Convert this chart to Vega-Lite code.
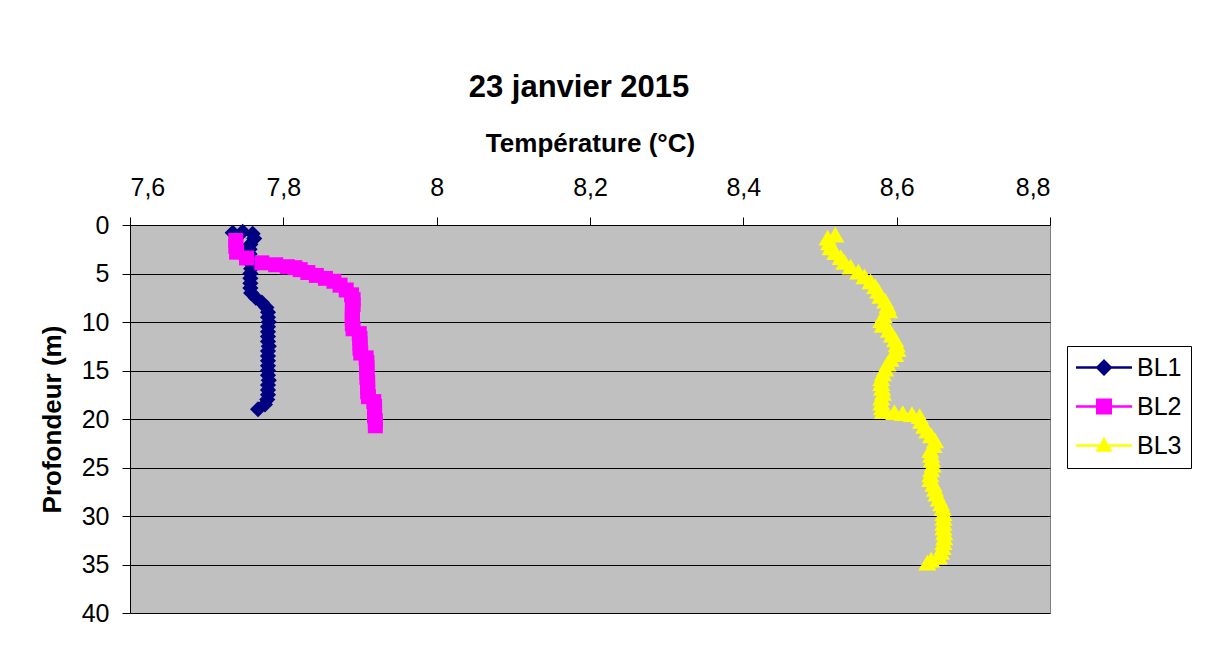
{
  "$schema": "https://vega.github.io/schema/vega-lite/v6.json",
  "autosize": {"type": "none"},
  "padding": {"left": 130, "top": 225, "right": 163, "bottom": 35},
  "width": 920,
  "height": 388,
  "background": "white",
  "title": {"text": "23 janvier 2015", "font": "Liberation Sans", "fontSize": 31, "fontWeight": "bold", "color": "black", "frame": "group", "anchor": "middle", "dx": -11, "offset": 26},
  "config": {
    "font": "Liberation Sans",
    "view": {"fill": "#C0C0C0", "stroke": "#808080", "strokeWidth": 1}
  },
  "data": {"values": [
    {"s":"BL1","d":0.7,"t":7.747},{"s":"BL1","d":0.8,"t":7.734},{"s":"BL1","d":0.9,"t":7.760},{"s":"BL1","d":1.4,"t":7.762},
    {"s":"BL1","d":2.0,"t":7.757},{"s":"BL1","d":2.5,"t":7.756},{"s":"BL1","d":3.0,"t":7.756},{"s":"BL1","d":3.5,"t":7.757},
    {"s":"BL1","d":4.0,"t":7.758},{"s":"BL1","d":4.5,"t":7.758},{"s":"BL1","d":5.0,"t":7.757},{"s":"BL1","d":5.5,"t":7.757},
    {"s":"BL1","d":6.0,"t":7.757},{"s":"BL1","d":6.5,"t":7.757},{"s":"BL1","d":7.0,"t":7.758},{"s":"BL1","d":7.5,"t":7.764},
    {"s":"BL1","d":8.0,"t":7.772},{"s":"BL1","d":8.5,"t":7.778},{"s":"BL1","d":9.0,"t":7.780},{"s":"BL1","d":9.5,"t":7.780},
    {"s":"BL1","d":10.0,"t":7.781},{"s":"BL1","d":10.5,"t":7.780},{"s":"BL1","d":11.0,"t":7.780},{"s":"BL1","d":11.5,"t":7.780},
    {"s":"BL1","d":12.0,"t":7.780},{"s":"BL1","d":12.5,"t":7.781},{"s":"BL1","d":13.0,"t":7.780},{"s":"BL1","d":13.5,"t":7.780},
    {"s":"BL1","d":14.0,"t":7.780},{"s":"BL1","d":14.5,"t":7.780},{"s":"BL1","d":15.0,"t":7.780},{"s":"BL1","d":15.5,"t":7.780},
    {"s":"BL1","d":16.0,"t":7.781},{"s":"BL1","d":16.5,"t":7.780},{"s":"BL1","d":17.0,"t":7.780},{"s":"BL1","d":17.5,"t":7.780},
    {"s":"BL1","d":18.0,"t":7.779},{"s":"BL1","d":18.5,"t":7.776},{"s":"BL1","d":19.0,"t":7.767},

    {"s":"BL2","d":1.6,"t":7.738},{"s":"BL2","d":2.2,"t":7.738},{"s":"BL2","d":2.8,"t":7.739},{"s":"BL2","d":3.4,"t":7.752},
    {"s":"BL2","d":3.9,"t":7.772},{"s":"BL2","d":4.1,"t":7.790},{"s":"BL2","d":4.3,"t":7.805},{"s":"BL2","d":4.4,"t":7.815},
    {"s":"BL2","d":4.6,"t":7.822},{"s":"BL2","d":4.9,"t":7.832},{"s":"BL2","d":5.2,"t":7.843},{"s":"BL2","d":5.5,"t":7.855},
    {"s":"BL2","d":5.8,"t":7.866},{"s":"BL2","d":6.2,"t":7.874},{"s":"BL2","d":6.7,"t":7.882},{"s":"BL2","d":7.2,"t":7.889},
    {"s":"BL2","d":7.7,"t":7.891},{"s":"BL2","d":8.2,"t":7.891},{"s":"BL2","d":8.7,"t":7.890},{"s":"BL2","d":9.2,"t":7.890},
    {"s":"BL2","d":9.7,"t":7.890},{"s":"BL2","d":10.2,"t":7.890},{"s":"BL2","d":10.7,"t":7.891},{"s":"BL2","d":11.2,"t":7.899},
    {"s":"BL2","d":11.7,"t":7.900},{"s":"BL2","d":12.2,"t":7.900},{"s":"BL2","d":12.7,"t":7.900},{"s":"BL2","d":13.2,"t":7.901},
    {"s":"BL2","d":13.7,"t":7.908},{"s":"BL2","d":14.2,"t":7.909},{"s":"BL2","d":14.7,"t":7.909},{"s":"BL2","d":15.2,"t":7.909},
    {"s":"BL2","d":15.7,"t":7.909},{"s":"BL2","d":16.2,"t":7.910},{"s":"BL2","d":16.7,"t":7.910},{"s":"BL2","d":17.2,"t":7.910},
    {"s":"BL2","d":17.7,"t":7.911},{"s":"BL2","d":18.2,"t":7.918},{"s":"BL2","d":18.7,"t":7.919},{"s":"BL2","d":19.2,"t":7.919},
    {"s":"BL2","d":19.7,"t":7.919},{"s":"BL2","d":20.2,"t":7.920},{"s":"BL2","d":20.7,"t":7.920},

    {"s":"BL3","d":1.0,"t":8.520},{"s":"BL3","d":1.3,"t":8.510},{"s":"BL3","d":1.8,"t":8.512},{"s":"BL3","d":2.3,"t":8.514},
    {"s":"BL3","d":2.8,"t":8.520},{"s":"BL3","d":3.3,"t":8.527},{"s":"BL3","d":3.8,"t":8.532},{"s":"BL3","d":4.3,"t":8.540},
    {"s":"BL3","d":4.8,"t":8.550},{"s":"BL3","d":5.3,"t":8.558},{"s":"BL3","d":5.8,"t":8.566},{"s":"BL3","d":6.3,"t":8.572},
    {"s":"BL3","d":6.8,"t":8.576},{"s":"BL3","d":7.3,"t":8.579},{"s":"BL3","d":7.8,"t":8.585},{"s":"BL3","d":8.3,"t":8.588},
    {"s":"BL3","d":8.8,"t":8.590},{"s":"BL3","d":9.3,"t":8.583},{"s":"BL3","d":9.8,"t":8.580},{"s":"BL3","d":10.3,"t":8.582},
    {"s":"BL3","d":10.8,"t":8.590},{"s":"BL3","d":11.3,"t":8.594},{"s":"BL3","d":11.8,"t":8.598},{"s":"BL3","d":12.3,"t":8.600},
    {"s":"BL3","d":12.8,"t":8.601},{"s":"BL3","d":13.3,"t":8.598},{"s":"BL3","d":13.8,"t":8.592},{"s":"BL3","d":14.3,"t":8.588},
    {"s":"BL3","d":14.8,"t":8.585},{"s":"BL3","d":15.3,"t":8.582},{"s":"BL3","d":15.8,"t":8.580},{"s":"BL3","d":16.3,"t":8.580},
    {"s":"BL3","d":16.8,"t":8.581},{"s":"BL3","d":17.3,"t":8.582},{"s":"BL3","d":17.8,"t":8.580},{"s":"BL3","d":18.3,"t":8.580},
    {"s":"BL3","d":18.8,"t":8.581},{"s":"BL3","d":19.2,"t":8.582},{"s":"BL3","d":19.3,"t":8.597},{"s":"BL3","d":19.4,"t":8.608},
    {"s":"BL3","d":19.5,"t":8.620},{"s":"BL3","d":19.7,"t":8.630},{"s":"BL3","d":20.2,"t":8.632},{"s":"BL3","d":20.7,"t":8.636},
    {"s":"BL3","d":21.2,"t":8.640},{"s":"BL3","d":21.7,"t":8.645},{"s":"BL3","d":22.2,"t":8.650},{"s":"BL3","d":22.7,"t":8.648},
    {"s":"BL3","d":23.2,"t":8.644},{"s":"BL3","d":23.7,"t":8.645},{"s":"BL3","d":24.2,"t":8.646},{"s":"BL3","d":24.7,"t":8.647},
    {"s":"BL3","d":25.2,"t":8.645},{"s":"BL3","d":25.7,"t":8.644},{"s":"BL3","d":26.2,"t":8.644},{"s":"BL3","d":26.7,"t":8.648},
    {"s":"BL3","d":27.2,"t":8.650},{"s":"BL3","d":27.7,"t":8.652},{"s":"BL3","d":28.2,"t":8.655},{"s":"BL3","d":28.7,"t":8.658},
    {"s":"BL3","d":29.2,"t":8.660},{"s":"BL3","d":29.7,"t":8.661},{"s":"BL3","d":30.2,"t":8.661},{"s":"BL3","d":30.7,"t":8.661},
    {"s":"BL3","d":31.2,"t":8.661},{"s":"BL3","d":31.7,"t":8.662},{"s":"BL3","d":32.2,"t":8.662},{"s":"BL3","d":32.7,"t":8.661},
    {"s":"BL3","d":33.2,"t":8.660},{"s":"BL3","d":33.7,"t":8.658},{"s":"BL3","d":34.2,"t":8.655},{"s":"BL3","d":34.5,"t":8.645},
    {"s":"BL3","d":34.8,"t":8.640}
  ]},
  "encoding": {
    "x": {"field": "t", "type": "quantitative",
      "scale": {"domain": [7.6, 8.8], "nice": false, "zero": false},
      "axis": {"orient": "top", "title": "Température (°C)", "values": [7.6, 7.8, 8, 8.2, 8.4, 8.6, 8.8],
        "labelExpr": "replace(format(datum.value, '~g'), '.', ',')",
        "grid": false, "domain": true, "domainColor": "black", "tickColor": "black", "tickSize": 8,
        "labelFont": "Liberation Sans", "labelFontSize": 25, "labelColor": "black", "labelPadding": 17,
        "titleFont": "Liberation Sans", "titleFontSize": 26, "titleFontWeight": "bold", "titleColor": "black", "titlePadding": 19}},
    "y": {"field": "d", "type": "quantitative",
      "scale": {"domain": [0, 40], "reverse": true, "nice": false},
      "axis": {"title": "Profondeur (m)", "values": [0, 5, 10, 15, 20, 25, 30, 35, 40],
        "grid": true, "gridColor": "black", "gridWidth": 1, "gridOpacity": 1,
        "domain": true, "domainColor": "black", "tickColor": "black", "tickSize": 8,
        "labelFont": "Liberation Sans", "labelFontSize": 25, "labelColor": "black", "labelPadding": 13,
        "titleFont": "Liberation Sans", "titleFontSize": 26, "titleFontWeight": "bold", "titleColor": "black", "titlePadding": 16}},
    "color": {"field": "s", "type": "nominal",
      "scale": {"domain": ["BL1", "BL2", "BL3"], "range": ["#000080", "#FF00FF", "#FFFF00"]},
      "legend": {"title": null, "orient": "none", "legendX": 937, "legendY": 121,
        "strokeColor": "black", "fillColor": "white", "padding": 9,
        "labelFont": "Liberation Sans", "labelFontSize": 25, "labelColor": "black", "labelOffset": 36,
        "symbolSize": 625, "rowPadding": 13,
        "encode": {"symbols": {"update": {
          "shape": {"signal": "datum.value == 'BL1' ? 'M-1,-0.1H3.48V0.1H-1Z M1.24,-0.68L1.92,0L1.24,0.68L0.56,0Z' : datum.value == 'BL2' ? 'M-1,-0.1H3.48V0.1H-1Z M0.6,-0.64H1.88V0.64H0.6Z' : 'M-1,-0.1H3.48V0.1H-1Z M1.24,-0.72L1.92,0.5H0.56Z'"},
          "fill": {"signal": "datum.value == 'BL1' ? '#000080' : datum.value == 'BL2' ? '#FF00FF' : '#FFFF00'"},
          "fillOpacity": {"value": 1},
          "opacity": {"value": 1},
          "stroke": {"value": "transparent"},
          "strokeWidth": {"value": 0},
          "size": {"value": 625}
        }}}}}
  },
  "layer": [
    {"mark": {"type": "line", "strokeWidth": 2},
     "encoding": {"order": {"field": "d", "type": "quantitative"}}},
    {"transform": [{"filter": "datum.s == 'BL1'"}],
     "mark": {"type": "point", "filled": true, "opacity": 1, "strokeWidth": 0, "shape": "diamond", "size": 260}},
    {"transform": [{"filter": "datum.s == 'BL2'"}],
     "mark": {"type": "point", "filled": true, "opacity": 1, "strokeWidth": 0, "shape": "square", "size": 225}},
    {"transform": [{"filter": "datum.s == 'BL3'"}],
     "mark": {"type": "point", "filled": true, "opacity": 1, "strokeWidth": 0, "shape": "triangle-up", "size": 330}}
  ]
}
